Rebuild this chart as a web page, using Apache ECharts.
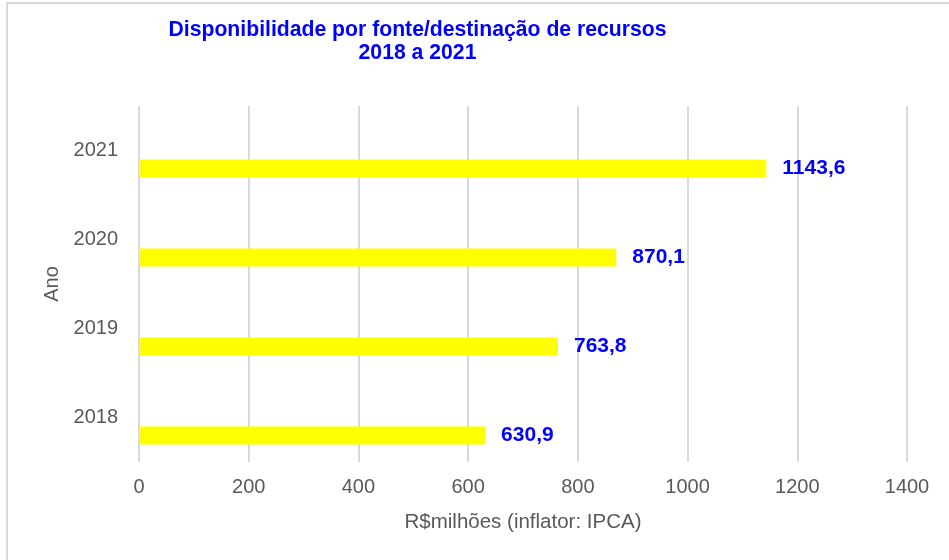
<!DOCTYPE html>
<html>
<head>
<meta charset="utf-8">
<script src="https://cdn.jsdelivr.net/npm/echarts@6/dist/echarts.min.js"></script>
<style>
html,body{margin:0;padding:0;background:#fff;}
#c{width:949px;height:560px;}
</style>
</head>
<body>
<div id="c"></div>
<script>
const categories = ['2018', '2019', '2020', '2021'];
const values = [630.9, 763.8, 870.1, 1143.6];
const xTicks = [0, 200, 400, 600, 800, 1000, 1200, 1400];
const titleLines = ['Disponibilidade por fonte/destinação de recursos', '2018 a 2021'];
const xName = 'R$milhões (inflator: IPCA)';
const yName = 'Ano';

const FONT = '"Liberation Sans", Arial, sans-serif';
const chart = echarts.init(document.getElementById('c'));
chart.setOption({
  animation: false,
  backgroundColor: '#ffffff',
  graphic: [
    {
      type: 'rect', silent: true,
      shape: { x: 7, y: 3, width: 1000, height: 600 },
      style: { fill: 'none', stroke: '#d9d9d9', lineWidth: 2 }
    },
    {
      type: 'text', silent: true, x: 417.5, y: 19,
      style: {
        text: titleLines.join('\n'), fill: '#0000ff', font: 'bold 21.2px ' + FONT,
        align: 'center', verticalAlign: 'top', lineHeight: 22.5
      }
    }
  ],
  grid: { left: 139, right: 42, top: 106, bottom: 98, containLabel: false },
  xAxis: {
    type: 'value', min: xTicks[0], max: xTicks[xTicks.length - 1], interval: 200,
    name: xName, nameLocation: 'middle', nameGap: 50,
    nameTextStyle: { color: '#595959', fontSize: 20.5, fontFamily: FONT },
    axisLine: { show: false }, axisTick: { show: false },
    axisLabel: { color: '#595959', fontSize: 20, fontFamily: FONT, margin: 15, formatter: v => String(v) },
    splitLine: { show: true, lineStyle: { color: '#d9d9d9', width: 2 } }
  },
  yAxis: {
    type: 'category', data: categories,
    name: yName, nameLocation: 'middle', nameGap: 77, nameRotate: 90,
    nameTextStyle: { color: '#595959', fontSize: 20, fontFamily: FONT },
    axisLine: { show: false }, axisTick: { show: false },
    axisLabel: { color: '#595959', fontSize: 20, fontFamily: FONT, margin: 21 },
    splitLine: { show: false }
  },
  series: [
    {
      type: 'bar', data: categories.map(() => '-'), barWidth: 18, barGap: '100%',
      itemStyle: { color: 'transparent' }
    },
    {
      type: 'bar', data: values, barWidth: 18, barGap: '100%',
      itemStyle: { color: '#ffff00' },
      label: {
        show: true, position: 'right', distance: 16,
        color: '#0000ff', fontSize: 21, fontWeight: 'bold', fontFamily: FONT,
        formatter: p => p.value.toFixed(1).replace('.', ',')
      }
    }
  ]
});
</script>
</body>
</html>
